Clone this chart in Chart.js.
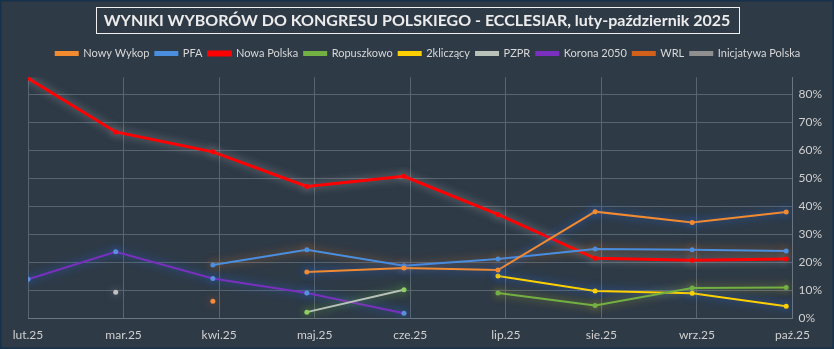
<!DOCTYPE html>
<html>
<head>
<meta charset="utf-8">
<script src="https://cdn.jsdelivr.net/npm/chart.js@4"></script>
<style>
    html, body { margin: 0; padding: 0; background: #2e3a46; }
    #wrap { width: 834px; height: 349px; position: relative; }
</style>
</head>
<body>
<div id="wrap"><canvas id="chart" width="834" height="349"></canvas></div>
<script>
// Poll dates (first of each month) and tick labels
const pollDates = ['2025-02-01', '2025-03-01', '2025-04-01', '2025-05-01', '2025-06-01',
                   '2025-07-01', '2025-08-01', '2025-09-01', '2025-10-01'];
const monthLabels = ['lut.25', 'mar.25', 'kwi.25', 'maj.25', 'cze.25', 'lip.25', 'sie.25', 'wrz.25', 'paź.25'];

// Results in %, null = party not polled
const nowyWykop     = [null, null, null, 16.6, 18.0, 17.3, 38.1, 34.2, 38.0];
const pfa           = [null, null, 19.1, 24.5, 18.8, 21.2, 24.8, 24.5, 24.1];
const nowaPolska    = [85.6, 66.5, 59.4, 47.1, 50.7, 37.1, 21.5, 20.8, 21.2];
const ropuszkowo    = [null, null, null, null, null, 9.1, 4.7, 10.9, 11.1];
const dwaKliczacy   = [null, null, null, null, null, 15.2, 9.8, 9.0, 4.4];
const pzpr          = [null, null, null, 2.3, 10.3, null, null, null, null];
const korona2050    = [14.0, 23.8, 14.3, 9.1, 1.9, null, null, null, null];
const wrl           = [null, null, 6.2, null, null, null, null, null, null];
const inicjatywa    = [null, 9.4, null, null, null, null, null, null, null];

const DAY = 86400000;
const start = new Date(pollDates[0]).getTime();
const days = pollDates.map(d => Math.round((new Date(d).getTime() - start) / DAY));

function toPoints(values) {
    return values.map((v, i) => ({ x: days[i], y: v }));
}

const series = [
    { label: 'Nowy Wykop', data: nowyWykop, color: '#f28a30', glow: 'rgba(40,110,230,0.9)', width: 2 },
    { label: 'PFA', data: pfa, color: '#4a8ee0', glow: 'rgba(230,120,30,0.7)', width: 2 },
    { label: 'Nowa Polska', data: nowaPolska, color: '#ff0000', glow: 'rgba(200,200,200,0.55)', width: 3 },
    { label: 'Ropuszkowo', data: ropuszkowo, color: '#72b043', glow: 'rgba(220,210,40,0.6)', width: 2 },
    { label: '2kliczący', data: dwaKliczacy, color: '#ffd000', glow: 'rgba(40,110,230,0.9)', width: 2 },
    { label: 'PZPR', data: pzpr, color: '#b9c2b9', glow: 'rgba(110,200,60,0.7)', width: 2 },
    { label: 'Korona 2050', data: korona2050, color: '#7b2fbf', glow: 'rgba(40,110,230,0.8)', width: 2 },
    { label: 'WRL', data: wrl, color: '#d0601a', glow: 'rgba(230,110,40,0.6)', width: 2 },
    { label: 'Inicjatywa Polska', data: inicjatywa, color: '#8f8f8f', glow: 'rgba(200,200,200,0.5)', width: 2 }
];

const pointColors = {
    'PZPR': '#8fd060',
    'Korona 2050': '#5a8fe0',
    'WRL': '#f58a3a',
    'Inicjatywa Polska': '#c0c0c0'
};

const TITLE = 'WYNIKI WYBORÓW DO KONGRESU POLSKIEGO - ECCLESIAR, luty-październik 2025';
const TITLE_FONT = 'bold 16px Lato, "Open Sans", sans-serif';

// background + outer frame
const backgroundPlugin = {
    id: 'bg',
    beforeDraw(chart) {
        const ctx = chart.ctx;
        ctx.save();
        ctx.fillStyle = '#2e3a46';
        ctx.fillRect(0, 0, chart.width, chart.height);
        ctx.strokeStyle = '#17314a';
        ctx.lineWidth = 3;
        ctx.strokeRect(0, 0, chart.width, chart.height);
        ctx.restore();
    }
};

// boxed title drawn by hand (the library title is only used as a spacer)
const titlePlugin = {
    id: 'boxTitle',
    afterDraw(chart) {
        const ctx = chart.ctx;
        ctx.save();
        ctx.font = TITLE_FONT;
        const w = ctx.measureText(TITLE).width;
        const cx = chart.width / 2;
        ctx.fillStyle = '#ececec';
        ctx.textAlign = 'center';
        ctx.textBaseline = 'middle';
        ctx.fillText(TITLE, cx, 20.5);
        ctx.strokeStyle = '#f0f0f0';
        ctx.lineWidth = 1;
        ctx.strokeRect(Math.round(cx - w / 2 - 8) + 0.5, 7.5, Math.round(w + 16), 26);
        ctx.restore();
    }
};

// soft glow around each series
const glowPlugin = {
    id: 'glow',
    beforeDatasetDraw(chart, args) {
        const ctx = chart.ctx;
        ctx.save();
        ctx.shadowColor = series[args.index].glow;
        ctx.shadowBlur = 9;
    },
    afterDatasetDraw(chart) {
        chart.ctx.restore();
    }
};

const ctx = document.getElementById('chart').getContext('2d');
new Chart(ctx, {
    type: 'line',
    data: {
        datasets: series.map(s => ({
            label: s.label,
            data: toPoints(s.data),
            borderColor: s.color,
            backgroundColor: s.color,
            borderWidth: s.width,
            pointRadius: 2.5,
            pointHoverRadius: 3,
            pointBackgroundColor: pointColors[s.label] || s.color,
            pointBorderWidth: 0,
            spanGaps: false,
            tension: 0
        }))
    },
    options: {
        responsive: false,
        animation: false,
        layout: { padding: { top: 42, left: 28, right: 6, bottom: -2 } },
        plugins: {
            legend: {
                position: 'top',
                labels: {
                    color: '#d8d8d8',
                    font: { family: 'Lato, sans-serif', size: 11 },
                    boxWidth: 22,
                    boxHeight: 3,
                    padding: 6
                }
            },
            title: {
                display: true,
                text: ' ',
                weight: 500,
                font: { size: 1 },
                padding: { top: 3, bottom: 4 }
            },
            tooltip: { enabled: false }
        },
        scales: {
            x: {
                type: 'linear',
                min: 0,
                max: 244,
                grid: { color: '#58646f', drawTicks: false },
                border: { color: '#6a7680' },
                ticks: {
                    stepSize: 30.5,
                    color: '#d0d0d0',
                    font: { family: 'Lato, sans-serif', size: 12 },
                    padding: 9,
                    maxRotation: 0,
                    callback: (value, index) => monthLabels[index]
                }
            },
            y: {
                position: 'right',
                min: 0,
                max: 86,
                grid: { color: '#58646f', drawTicks: false },
                border: { color: '#6a7680' },
                ticks: {
                    stepSize: 10,
                    includeBounds: false,
                    color: '#d0d0d0',
                    font: { family: 'Lato, sans-serif', size: 12 },
                    padding: 6,
                    callback: v => v + '%'
                }
            }
        }
    },
    plugins: [backgroundPlugin, glowPlugin, titlePlugin]
});
</script>
</body>
</html>
